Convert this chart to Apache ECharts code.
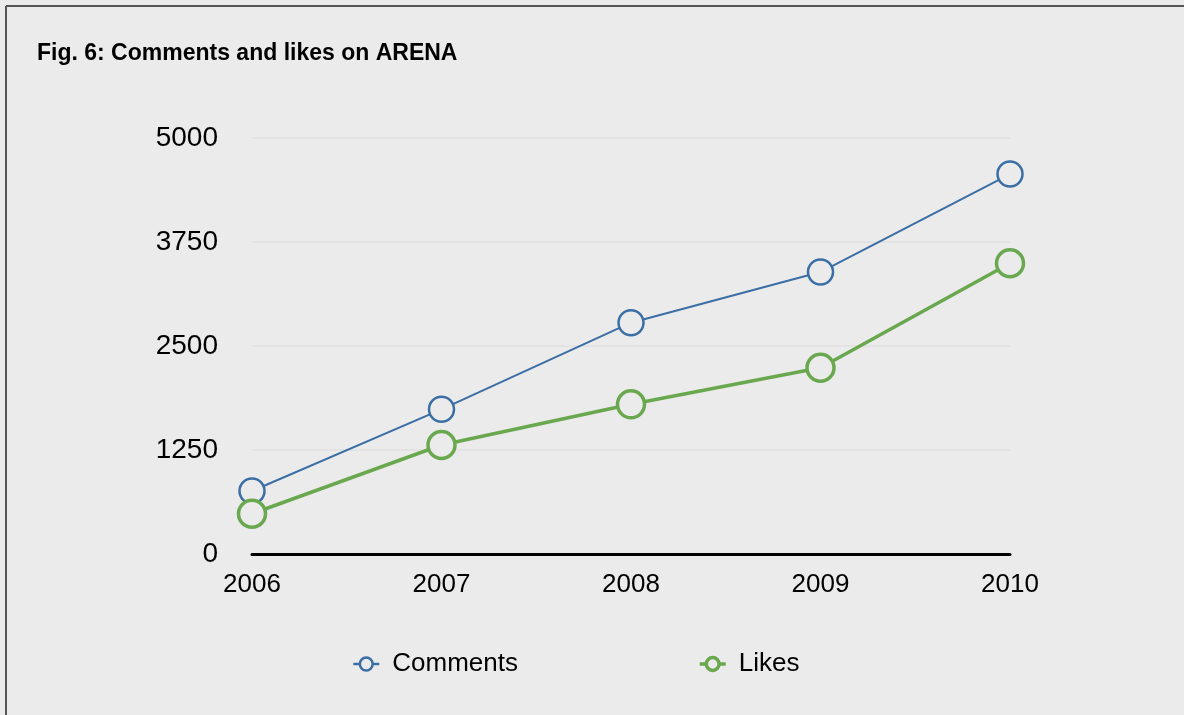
<!DOCTYPE html>
<html>
<head>
<meta charset="utf-8">
<script src="https://cdn.jsdelivr.net/npm/echarts@6/dist/echarts.min.js"></script>
<style>
html,body{margin:0;padding:0;background:#ebebeb;}
#chart{width:1184px;height:715px;}
</style>
</head>
<body>
<div id="chart"></div>
<script>
const categories = ['2006', '2007', '2008', '2009', '2010'];
const comments = [757, 1739, 2780, 3389, 4567];
const likes = [484, 1310, 1799, 2239, 3494];
const yTicks = [0, 1250, 2500, 3750, 5000];

const chart = echarts.init(document.getElementById('chart'));
const font = '"Liberation Sans", Arial, Helvetica, sans-serif';
chart.setOption({
  backgroundColor: '#ebebeb',
  animation: false,
  title: {
    text: 'Fig. 6: Comments and likes on ARENA',
    left: 32, top: 36,
    textStyle: {fontFamily: font, fontSize: 23, fontWeight: 'bold', color: '#000', lineHeight: 26}
  },
  graphic: [
    {type: 'line', shape: {x1: 6, y1: 6, x2: 1184, y2: 6}, style: {stroke: '#555', lineWidth: 2}},
    {type: 'line', shape: {x1: 6, y1: 6, x2: 6, y2: 715}, style: {stroke: '#555', lineWidth: 2}}
  ],
  legend: {
    left: 347, top: 646,
    itemWidth: 26, itemHeight: 16, itemGap: 180,
    textStyle: {fontFamily: font, fontSize: 26, color: '#000', padding: [0, 0, 0, 8]},
    data: [
      {name: 'Comments', itemStyle: {borderWidth: 2.5}, lineStyle: {width: 2.5}},
      {name: 'Likes', itemStyle: {borderWidth: 3.5}, lineStyle: {width: 3.5}}
    ]
  },
  grid: {left: 252, right: 174, top: 138, bottom: 161},
  xAxis: {
    type: 'category', data: categories, boundaryGap: false,
    axisLine: {lineStyle: {color: '#000', width: 3}},
    axisTick: {show: false},
    axisLabel: {fontFamily: font, fontSize: 26, color: '#000', margin: 18},
    splitLine: {show: false}
  },
  yAxis: {
    type: 'value', min: yTicks[0], max: yTicks[yTicks.length - 1], interval: yTicks[1] - yTicks[0],
    axisLine: {show: false}, axisTick: {show: false},
    axisLabel: {fontFamily: font, fontSize: 28, color: '#000', margin: 34, padding: [8, 0, 0, 0],
      formatter: v => String(v)},
    splitLine: {lineStyle: {color: '#e3e3e3', width: 2}}
  },
  series: [
    {
      name: 'Comments', type: 'line', data: comments,
      symbol: 'circle', symbolSize: 25,
      lineStyle: {color: '#3b6ea5', width: 2},
      itemStyle: {color: '#ebebeb', borderColor: '#3b6ea5', borderWidth: 2.5},
      z: 3
    },
    {
      name: 'Likes', type: 'line', data: likes,
      symbol: 'circle', symbolSize: 27,
      lineStyle: {color: '#6aa84f', width: 3.5},
      itemStyle: {color: '#ebebeb', borderColor: '#6aa84f', borderWidth: 3.5},
      z: 4
    }
  ]
});
</script>
</body>
</html>
